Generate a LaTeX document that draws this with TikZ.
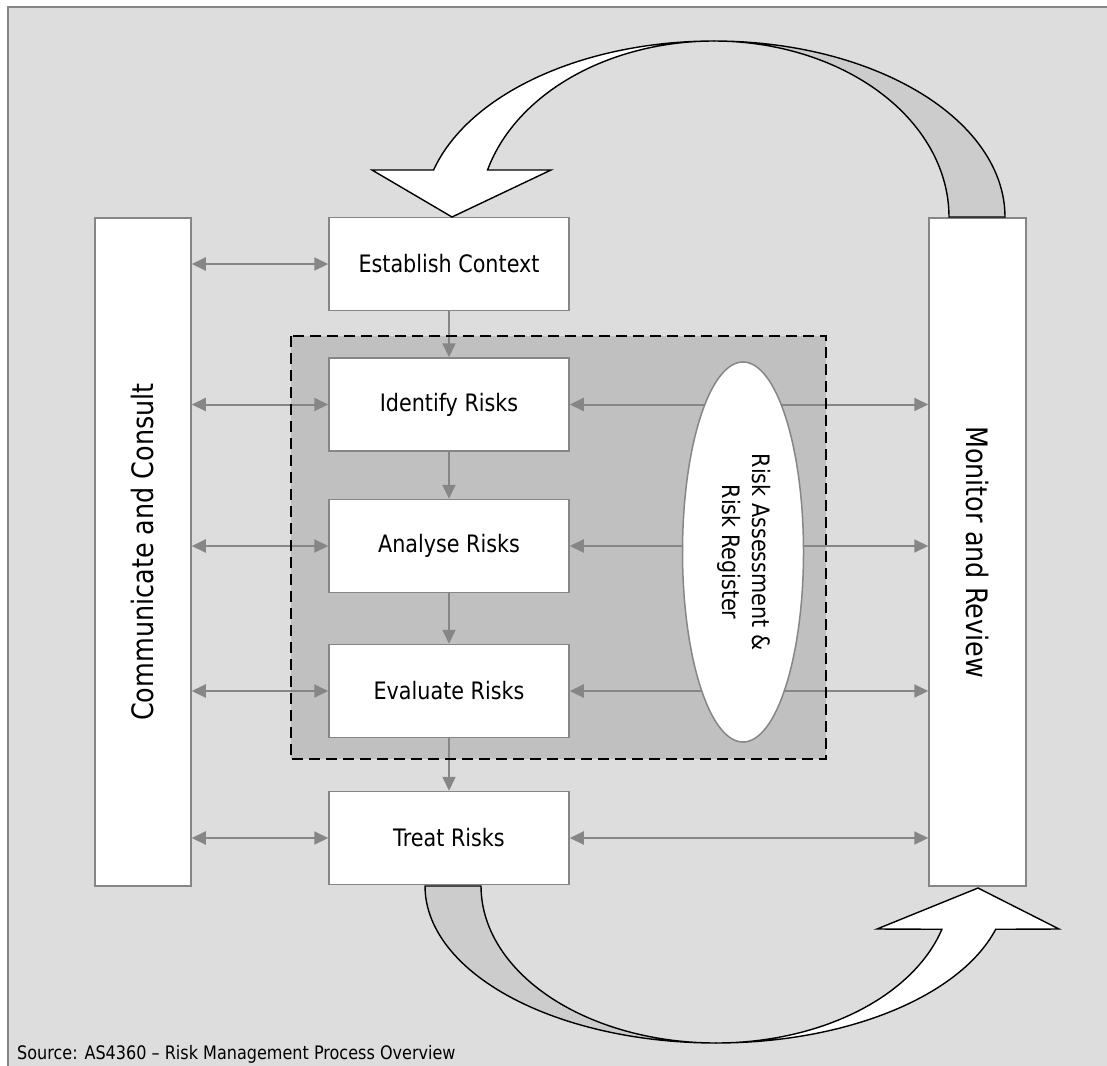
\documentclass[tikz,border=0pt]{standalone}
\usepackage{fontspec}
\setmainfont{DejaVu Sans}[FakeStretch=0.863]
\usetikzlibrary{arrows.meta,shapes.geometric}
\definecolor{bgc}{HTML}{DDDDDD}
\definecolor{zonec}{HTML}{C0C0C0}
\definecolor{bandc}{HTML}{CCCCCC}
\definecolor{linec}{HTML}{868686}
\begin{document}
\begin{tikzpicture}[x=1pt,y=-1pt,
  stepbox/.style={draw=linec, line width=1.5pt, fill=white, minimum width=240pt, minimum height=93pt, inner sep=0pt, font=\fontsize{24}{29}\selectfont},
  sidebox/.style={draw=linec, line width=1.5pt, fill=white, minimum width=96pt, minimum height=668pt, inner sep=0pt, font=\fontsize{29.5}{35}\selectfont},
  link/.style={draw=linec, line width=2pt, -{Triangle[length=14pt,width=13pt]}},
  dlink/.style={draw=linec, line width=2pt, {Triangle[length=14pt,width=13pt]}-{Triangle[length=14pt,width=13pt]}},
  curvearrow/.style={draw=black, line width=1.4pt, line join=miter},
  zonebox/.style={fill=zonec, minimum width=535pt, minimum height=423pt, inner sep=0pt},
  zoneborder/.style={draw=black, line width=2.2pt, dash pattern=on 11pt off 6pt},
  store/.style={ellipse, draw=linec, line width=1.5pt, fill=white, minimum width=121pt, minimum height=380pt, inner sep=0pt, font=\fontsize{24}{30}\selectfont},
  srctext/.style={anchor=base west, inner sep=0pt, font=\fontsize{18.6}{22}\selectfont}
]
\useasboundingbox (0,0) rectangle (1107,1065);
\fill[white] (0,0) rectangle (1107,1065);
\draw[fill=bgc, draw=linec, line width=2pt] (8,7) rectangle (1130,1090);

% shaded risk assessment zone
\node[zonebox] (zone) at (558.5,547.5) {};

% process steps
\node[stepbox] (es) at (449,264) {Establish Context};
\node[stepbox] (id) at (449,404.5) {Identify Risks};
\node[stepbox] (an) at (449,546) {Analyse Risks};
\node[stepbox] (ev) at (449,691) {Evaluate Risks};
\node[stepbox] (tr) at (449,838) {Treat Risks};

% side columns
\node[sidebox] (cc) at (143,552) {\rotatebox{90}{Communicate and Consult}};
\node[sidebox, minimum width=97pt] (mr) at (977.5,552) {\rotatebox{-90}{Monitor and Review}};

% vertical flow
\draw[link] (es.south) -- (id.north);
\draw[link] (id.south) -- (an.north);
\draw[link] (an.south) -- (ev.north);
\draw[link] (ev.south) -- (tr.north);

% left double arrows
\foreach \b in {es,id,an,ev,tr}{
  \draw[dlink] (cc.east |- \b.west) -- (\b.west);
}
% right double arrows
\foreach \b in {id,an,ev,tr}{
  \draw[dlink] (\b.east) -- (\b.east -| mr.west);
}

% risk register ellipse
\node[store] (rr) at (743,552) {\rotatebox{-90}{\begin{tabular}{@{}c@{}}Risk Assessment \&\\Risk Register\end{tabular}}};

% dashed border of the zone
\draw[zoneborder] (zone.north west) rectangle (zone.south east);

% top curved arrow (Monitor -> Establish)
\draw[curvearrow, fill=bandc]
  plot[domain=90:0, samples=60] ({714+291*cos(\x)},{217-176*sin(\x)})
  -- plot[domain=0:90, samples=60] ({714+235*cos(\x)},{217-176*sin(\x)}) -- cycle;
\draw[curvearrow, fill=white]
  (433.6,170) -- plot[domain=164.5:90, samples=60] ({714+291*cos(\x)},{217-176*sin(\x)})
  -- plot[domain=90:164.5, samples=60] ({714+235*cos(\x)},{217-176*sin(\x)})
  -- (551,170) -- (452,217) -- (372,170) -- cycle;

% bottom curved arrow (Treat -> Monitor)
\draw[curvearrow, fill=bandc]
  plot[domain=180:270, samples=60] ({716+291*cos(\x)},{886-157*sin(\x)})
  -- plot[domain=270:180, samples=60] ({716+235*cos(\x)},{886-157*sin(\x)}) -- cycle;
\draw[curvearrow, fill=white]
  plot[domain=270:344, samples=60] ({716+291*cos(\x)},{886-157*sin(\x)})
  -- (1059,929) -- (978,888) -- (877,929)
  -- plot[domain=344:270, samples=60] ({716+235*cos(\x)},{886-157*sin(\x)}) -- cycle;

% source line
\node[srctext] (src) at (17,1059) {Source: AS4360 – Risk Management Process Overview};
\end{tikzpicture}
\end{document}
